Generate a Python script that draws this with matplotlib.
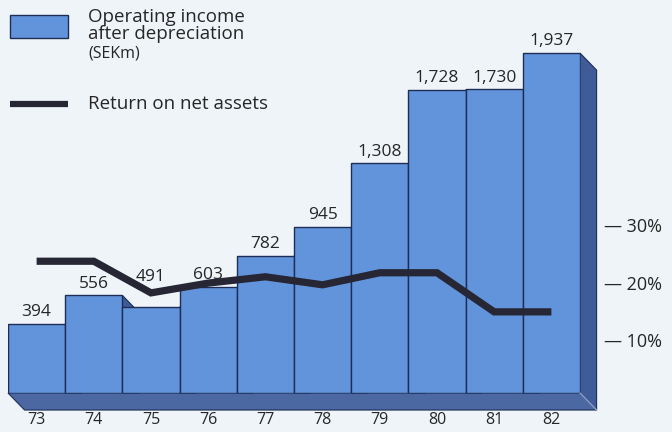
import numpy as np
import matplotlib.pyplot as plt
from matplotlib.patches import Polygon

plt.rcParams['font.family'] = ['Open Sans', 'DejaVu Sans']

years = ['73', '74', '75', '76', '77', '78', '79', '80', '81', '82']
income = [394, 556, 491, 603, 782, 945, 1308, 1728, 1730, 1937]
income_labels = ['394', '556', '491', '603', '782', '945', '1,308', '1,728', '1,730', '1,937']
rona = [23.7, 23.7, 18.2, 19.9, 21.0, 19.6, 21.7, 21.7, 14.9, 14.9]
pct_ticks = [10, 20, 30]

bg = '#eef4f8'
face = '#6294dc'
side = '#405c98'
floor = '#4b68a2'
edge = '#1e2d55'
line_col = '#262634'
txt = '#262626'

fig = plt.figure(figsize=(6.72, 4.32), dpi=100, facecolor=bg)
ax = fig.add_axes([8 / 672, 39 / 432, 572 / 672, 351 / 432])
ax.set_facecolor('none')
ax.set_xlim(-0.5, 9.5)
ax.set_ylim(0, 2000)

# depth of the oblique extrusion (down and to the right)
ddx = 0.29
ddy = -97

x = np.arange(len(years))
last = len(years) - 1

# floor slab under the bars
slab = Polygon([(-0.5, 0), (9.5, 0), (9.5 + ddx, ddy), (-0.5 + ddx, ddy)],
               closed=True, facecolor=floor, edgecolor=edge, lw=0.8,
               clip_on=False, zorder=1)
ax.add_patch(slab)

# right side faces, mostly hidden behind the next bar's front
for i, h in enumerate(income):
    xr = i + 0.5
    low = ddy if i == last else 0
    p = Polygon([(xr, h), (xr + ddx, h + ddy), (xr + ddx, low), (xr, 0)],
                closed=True, facecolor=side, edgecolor=edge, lw=0.8,
                clip_on=False, zorder=2)
    ax.add_patch(p)
ax.plot([9.5, 9.5 + ddx], [0, ddy], color='#8fa6cf', lw=1, clip_on=False, zorder=2.5)

ax.bar(x, income, width=1.0, color=face, edgecolor=edge, linewidth=1.0, zorder=3)

# lift the 491 label clear of the return line
lift = {2: 100}
for i, (xi, h, lab) in enumerate(zip(x, income, income_labels)):
    ax.text(xi, h + 22 + lift.get(i, 0), lab, ha='center', va='bottom', fontsize=12.5,
            color=txt, zorder=6)

for xi, yr in zip(x, years):
    ax.text(xi, -0.078, yr, transform=ax.get_xaxis_transform(), ha='center',
            va='center', fontsize=11.5, color=txt)

ax.set_xticks([])
ax.set_yticks([])
for s in ax.spines.values():
    s.set_visible(False)

# return on net assets, right hand scale
ax2 = ax.twinx()
ax2.set_ylim(0.8, 61.8)
ax2.plot(x, rona, color=line_col, lw=5.2, solid_capstyle='butt',
         solid_joinstyle='miter', zorder=5)
ax2.set_yticks(pct_ticks)
ax2.set_yticklabels(['\u2014 %d%%' % t for t in pct_ticks], fontsize=13, color=txt)
ax2.tick_params(axis='y', length=0, pad=17)
ax2.set_xticks([])
for s in ax2.spines.values():
    s.set_visible(False)

# legend
fig.patches.append(Polygon([(10, 432 - 15), (68, 432 - 15), (68, 432 - 38), (10, 432 - 38)],
                           closed=True, facecolor=face, edgecolor=edge, lw=1,
                           transform=None, figure=fig))
fig.text(88 / 672, 1 - 8 / 432, 'Operating income\nafter depreciation',
         ha='left', va='top', fontsize=13.5, color=txt, linespacing=0.95)
fig.text(88 / 672, 1 - 46 / 432, '(SEKm)', ha='left', va='top', fontsize=11.5,
         color=txt)
fig.add_artist(plt.Line2D([10 / 672, 68 / 672], [1 - 104 / 432, 1 - 104 / 432],
                          color=line_col, lw=4.5, solid_capstyle='butt'))
fig.text(88 / 672, 1 - 104 / 432, 'Return on net assets', ha='left', va='center',
         fontsize=13.5, color=txt)

fig.savefig('out.png', dpi=100, facecolor=bg)
